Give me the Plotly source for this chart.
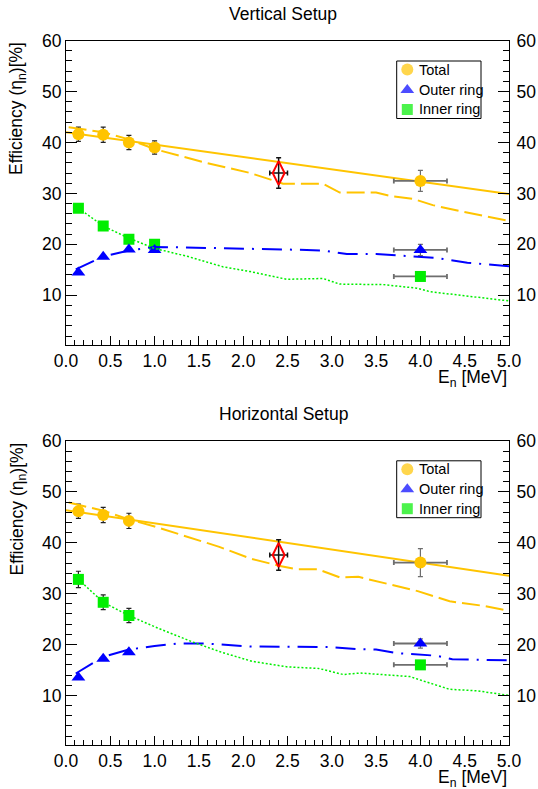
import plotly.graph_objects as go

# ---------------- data: Vertical setup ----------------
energy_v = [0.14, 0.42, 0.71, 1.0, 4.0]
energy_err_v = [0, 0, 0, 0, 0.3]
total_v = [41.6, 41.5, 40.0, 39.0, 32.45]
total_err_v = [1.4, 1.5, 1.4, 1.3, 2.05]
outer_v = [14.5, 17.55, 19.0, 18.9, 18.9]
outer_err_v = [0, 0, 0, 0, 1.1]
inner_v = [27.1, 23.6, 21.0, 20.0, 13.7]
inner_err_v = [0, 0, 0, 0, 0]
ref_e_v = [2.4]
ref_e_err_v = [0.1]
ref_v = [34.0]
ref_err_v = [3.0]

fit_e_v = [0.0, 5.0]
fit_total_v = [42.0, 29.9]

sim_total_e_v = [0.03, 0.42, 0.71, 1.0, 1.58, 2.08, 2.45, 2.9, 3.09, 3.5, 3.69, 3.92, 4.14, 4.48, 5.0]
sim_total_v = [43.0, 42.0, 40.6, 38.7, 36.0, 34.0, 31.9, 31.9, 30.15, 30.15, 29.4, 28.9, 27.7, 26.4, 24.6]
sim_outer_e_v = [0.11, 0.42, 0.71, 1.0, 1.58, 2.08, 2.57, 2.9, 3.17, 3.5, 3.96, 4.19, 4.53, 5.0]
sim_outer_v = [15.1, 17.6, 18.8, 19.5, 19.3, 19.05, 18.95, 18.8, 18.1, 18.1, 17.6, 17.3, 16.4, 15.7]
sim_inner_e_v = [0.14, 0.42, 0.71, 1.0, 1.38, 1.77, 2.08, 2.49, 2.9, 3.09, 3.58, 3.96, 4.11, 4.48, 5.0]
sim_inner_v = [27.1, 23.6, 21.2, 19.2, 17.6, 15.6, 14.65, 13.15, 13.3, 12.2, 12.1, 11.4, 10.7, 9.9, 8.9]

# ---------------- data: Horizontal setup ----------------
energy_h = [0.14, 0.42, 0.71, 4.0]
energy_err_h = [0, 0, 0, 0.3]
total_h = [46.2, 45.45, 44.3, 36.1]
total_err_h = [1.4, 1.5, 1.5, 2.75]
outer_h = [13.5, 17.2, 18.5, 20.2]
outer_err_h = [0, 0, 0, 0.9]
inner_h = [32.8, 28.3, 25.7, 16.0]
inner_err_h = [1.6, 1.45, 1.4, 0]
ref_e_h = [2.4]
ref_e_err_h = [0.1]
ref_h = [37.6]
ref_err_h = [3.0]

fit_e_h = [0.0, 5.0]
fit_total_h = [46.4, 33.5]

sim_total_e_h = [0.03, 0.42, 0.71, 1.0, 1.73, 2.08, 2.4, 2.6, 2.84, 3.09, 3.3, 3.67, 3.97, 4.33, 4.71, 5.0]
sim_total_h = [47.9, 46.3, 44.6, 43.2, 39.2, 36.9, 35.5, 34.8, 34.8, 33.2, 33.3, 31.8, 30.5, 28.5, 27.6, 26.6]
sim_outer_e_h = [0.11, 0.42, 0.71, 1.0, 1.27, 1.58, 2.08, 2.57, 2.98, 3.27, 3.5, 3.73, 3.97, 4.18, 4.36, 5.0]
sim_outer_h = [14.3, 17.6, 19.0, 19.7, 20.2, 20.2, 19.6, 19.5, 19.5, 19.1, 19.0, 18.3, 18.1, 17.8, 17.1, 16.9]
sim_inner_e_h = [0.14, 0.42, 0.71, 1.0, 1.42, 1.77, 2.1, 2.5, 2.85, 3.13, 3.32, 3.88, 4.11, 4.33, 4.64, 5.0]
sim_inner_h = [32.8, 28.3, 25.7, 23.5, 20.55, 18.4, 16.7, 15.6, 15.3, 14.1, 14.4, 13.7, 12.4, 11.2, 10.9, 10.0]

x_ticks = [0.0, 0.5, 1.0, 1.5, 2.0, 2.5, 3.0, 3.5, 4.0, 4.5, 5.0]
y_ticks = [10, 20, 30, 40, 50, 60]
legend_labels = ["Total", "Outer ring", "Inner ring"]
titles = ["Vertical Setup", "Horizontal Setup"]

# ---------------- style ----------------
FONT = "Liberation Sans"
ORANGE = "#FFC400"
BLUE = "#0000FF"
GREEN = "#00EE00"
RED = "#FF0000"
W, H = 538, 789
L, R, T, B = 66, 29, 40, 44
PW, PH = W - L - R, H - T - B


def xf(px):
    return (px - L) / PW


def yf(py):
    return (H - B - py) / PH


fig = go.Figure()


def add_panel(xa, ya, e, eerr, tot, toterr, out, outerr, inn, innerr,
              re, reerr, rv, rverr, fe, ft, ste, st, soe, so, sie, si):
    n = len(e) - 1  # last point (4 MeV) has grey error bars

    def pts(yv, yerr, sym, col, size, idx, ecol, exerr):
        fig.add_trace(go.Scatter(
            x=[e[i] for i in idx], y=[yv[i] for i in idx], mode="markers",
            xaxis=xa, yaxis=ya, showlegend=False, hoverinfo="skip",
            marker=dict(symbol=sym, color=col, size=size, line=dict(width=0)),
            error_y=dict(type="data", array=[yerr[i] for i in idx], color=ecol,
                         thickness=1.2, width=2.5, visible=True),
            error_x=dict(type="data", array=[exerr[i] for i in idx], color=ecol,
                         thickness=1.8, width=2.5, visible=True) if exerr else None,
        ))
    low = list(range(n))
    high = [n]
    fig.add_trace(go.Scatter(x=fe, y=ft, mode="lines", xaxis=xa, yaxis=ya,
                             showlegend=False, hoverinfo="skip",
                             line=dict(color=ORANGE, width=2)))
    for idx, ecol, exe in ((low, "#222222", None), (high, "#6e6e6e", eerr)):
        pts(inn, innerr, "square", GREEN, 11, idx, ecol, exe)
        pts(out, outerr, "triangle-up", BLUE, 12, idx, ecol, exe)
        pts(tot, toterr, "circle", ORANGE, 12, idx, ecol, exe)
    fig.add_trace(go.Scatter(x=ste, y=st, mode="lines", xaxis=xa, yaxis=ya,
                             showlegend=False, hoverinfo="skip",
                             line=dict(color=ORANGE, width=2, dash="18px,6px")))
    fig.add_trace(go.Scatter(x=soe, y=so, mode="lines", xaxis=xa, yaxis=ya,
                             showlegend=False, hoverinfo="skip",
                             line=dict(color=BLUE, width=2, dash="20px,8px,2px,8px")))
    fig.add_trace(go.Scatter(x=sie, y=si, mode="lines", xaxis=xa, yaxis=ya,
                             showlegend=False, hoverinfo="skip",
                             line=dict(color=GREEN, width=1.5, dash="2px,2px")))
    fig.add_trace(go.Scatter(
        x=re, y=rv, mode="markers", xaxis=xa, yaxis=ya, showlegend=False,
        hoverinfo="skip",
        marker=dict(symbol="diamond-tall-open", size=17, color=RED,
                    line=dict(color=RED, width=2)),
        error_y=dict(type="data", array=rverr, color="#111111", thickness=1.5, width=2.5),
        error_x=dict(type="data", array=reerr, color="#111111", thickness=1.5, width=2.5),
    ))


add_panel("x", "y", energy_v, energy_err_v, total_v, total_err_v, outer_v, outer_err_v,
          inner_v, inner_err_v, ref_e_v, ref_e_err_v, ref_v, ref_err_v,
          fit_e_v, fit_total_v, sim_total_e_v, sim_total_v, sim_outer_e_v, sim_outer_v,
          sim_inner_e_v, sim_inner_v)
add_panel("x2", "y3", energy_h, energy_err_h, total_h, total_err_h, outer_h, outer_err_h,
          inner_h, inner_err_h, ref_e_h, ref_e_err_h, ref_h, ref_err_h,
          fit_e_h, fit_total_h, sim_total_e_h, sim_total_h, sim_outer_e_h, sim_outer_h,
          sim_inner_e_h, sim_inner_h)

# dummy traces so the right-hand axes are drawn
fig.add_trace(go.Scatter(x=[None], y=[None], xaxis="x", yaxis="y2", showlegend=False))
fig.add_trace(go.Scatter(x=[None], y=[None], xaxis="x2", yaxis="y4", showlegend=False))

# legend (custom, drawn on a full-page hidden axis pair)
leg_rows_top = [69.5, 90.0, 109.5]
leg_rows_bot = [469.3, 489.3, 508.7]
leg_syms = ["circle", "triangle-up", "square"]
leg_cols = [ORANGE, BLUE, GREEN]
for rows in (leg_rows_top, leg_rows_bot):
    fig.add_trace(go.Scatter(
        x=[xf(407.3)] * 3, y=[yf(r) for r in rows], mode="markers",
        xaxis="x3", yaxis="y5", showlegend=False, hoverinfo="skip",
        marker=dict(symbol=leg_syms, color=leg_cols, size=[12, 12, 11], line=dict(width=0))))
    for lab, r in zip(legend_labels, rows):
        fig.add_annotation(x=xf(416.5), y=yf(r), xref="paper", yref="paper", text=lab,
                           showarrow=False, xanchor="left", yanchor="middle",
                           font=dict(family=FONT, size=14.5, color="black"))
    fig.add_shape(type="rect", xref="paper", yref="paper",
                  x0=xf(396.7), x1=xf(481), y0=yf(rows[0] - 8.5), y1=yf(rows[2] + 9),
                  line=dict(color="black", width=1), fillcolor="white", layer="below")

tickfont = dict(family=FONT, size=17.5, color="black")
xcommon = dict(range=[0, 5], tickvals=x_ticks, ticktext=[f"{v:.1f}" for v in x_ticks],
               ticks="inside", ticklen=9, tickwidth=1, tickcolor="black",
               minor=dict(dtick=0.1, ticks="inside", ticklen=5, tickwidth=1, tickcolor="black"),
               showline=True, linecolor="black", linewidth=1, mirror=True,
               showgrid=False, zeroline=False, tickfont=tickfont, domain=[0, 1],
               automargin=False)
ycommon = dict(range=[0.25, 60], tickvals=y_ticks, ticks="inside", ticklen=11, tickwidth=1,
               tickcolor="black",
               minor=dict(dtick=2, ticks="inside", ticklen=6, tickwidth=1, tickcolor="black"),
               showline=True, linecolor="black", linewidth=1,
               showgrid=False, zeroline=False, tickfont=tickfont, automargin=False)

top_dom = [yf(345), yf(40.5)]
bot_dom = [yf(745), yf(441)]

fig.update_layout(
    width=W, height=H, margin=dict(l=L, r=R, t=T, b=B, autoexpand=False),
    paper_bgcolor="white", plot_bgcolor="rgba(0,0,0,0)",
    font=dict(family=FONT, color="black"),
    xaxis=dict(**xcommon, anchor="y"),
    xaxis2=dict(**xcommon, anchor="y3"),
    yaxis=dict(**ycommon, domain=top_dom, anchor="x", side="left"),
    yaxis2=dict(**ycommon, domain=top_dom, anchor="x", side="right", overlaying="y",
                ticklabelstandoff=3),
    yaxis3=dict(**ycommon, domain=bot_dom, anchor="x2", side="left"),
    yaxis4=dict(**ycommon, domain=bot_dom, anchor="x2", side="right", overlaying="y3",
                ticklabelstandoff=3),
    xaxis3=dict(domain=[0, 1], range=[0, 1], visible=False, anchor="y5"),
    yaxis5=dict(domain=[0, 1], range=[0, 1], visible=False, anchor="x3"),
    showlegend=False,
)

for t, py in zip(titles, [14, 414]):
    fig.add_annotation(x=xf(283), y=yf(py), xref="paper", yref="paper", text=t,
                       showarrow=False, xanchor="center", yanchor="middle",
                       font=dict(family=FONT, size=17.5, color="black"))
for top in (40.5, 441):
    fig.add_annotation(x=xf(18), y=yf(top), xref="paper", yref="paper",
                       text="Efficiency (η<sub>n</sub>)[%]", textangle=-90,
                       showarrow=False, xanchor="center", yanchor="top",
                       font=dict(family=FONT, size=17.5, color="black"))
for bottom in (345, 745):
    fig.add_annotation(x=1.0, y=yf(bottom + 19.5), xref="paper", yref="paper",
                       text="E<sub>n</sub> [MeV]", showarrow=False,
                       xanchor="right", yanchor="top",
                       font=dict(family=FONT, size=17.5, color="black"))

fig.write_html("out.html", config={"displayModeBar": False},
               post_script="document.body.style.margin='0px';document.body.style.overflow='hidden';")
